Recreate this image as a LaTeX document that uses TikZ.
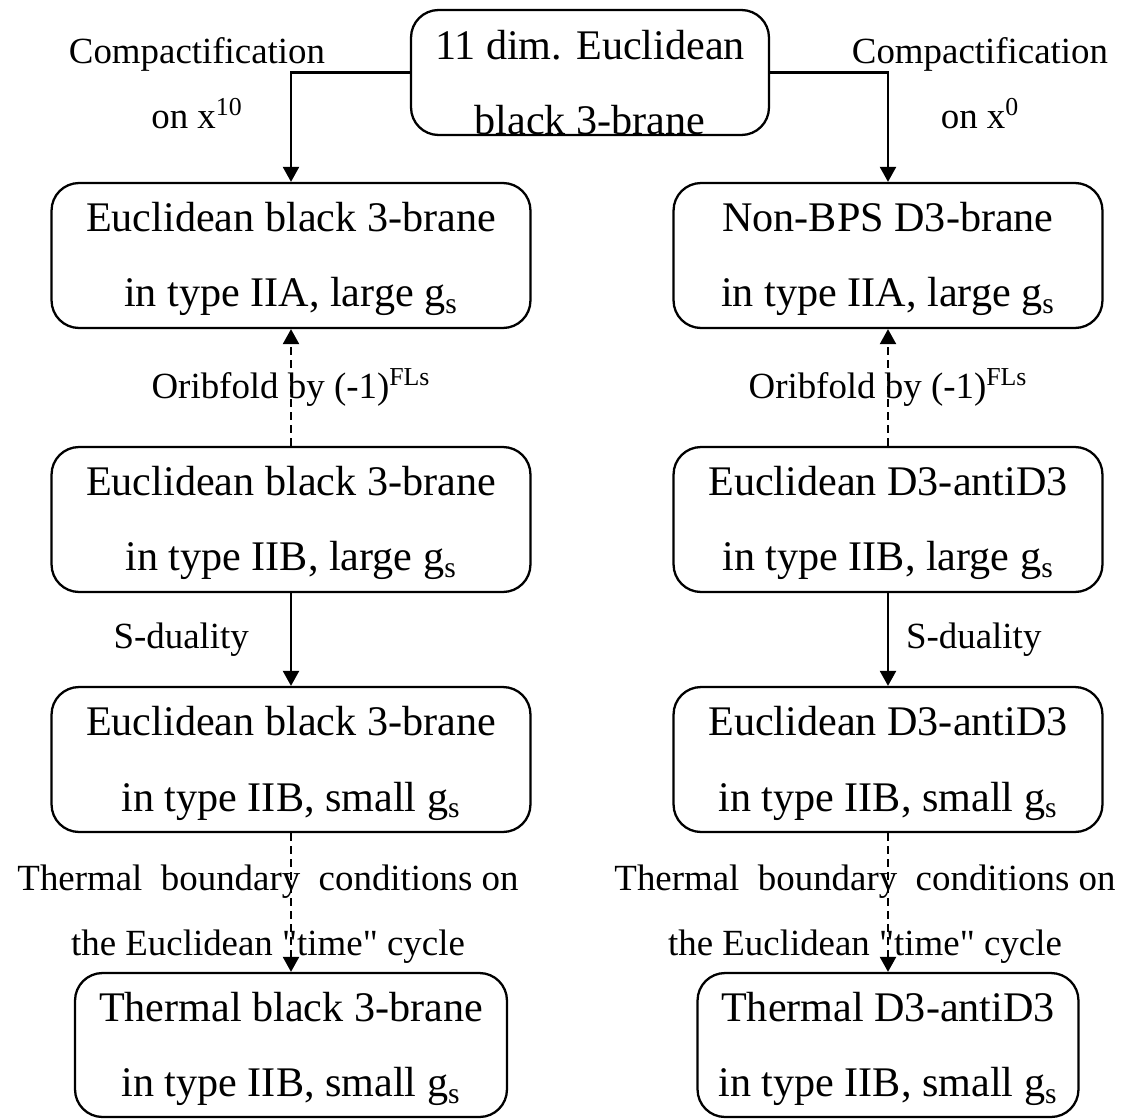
\documentclass[tikz,border=0pt]{standalone}
\usepackage{fontspec}
\setmainfont{Liberation Serif}
\usetikzlibrary{arrows.meta}

\begin{document}
\begin{tikzpicture}[x=0.02cm,y=-0.02cm]

% estilos de cajas, flechas y rotulos
\tikzstyle{caja}    = [draw=black,line width=1.3pt,rounded corners=0.55cm,align=center,inner sep=0pt,
                       minimum height=2.9cm,font=\fontsize{24}{42.7}\selectfont,text height=2.24cm,text depth=0.18cm]
\tikzstyle{flecha}  = [line width=1.3pt,-{Triangle[length=0.3cm,width=0.32cm]}]
\tikzstyle{discont} = [dash pattern=on 0.16cm off 0.1cm]
\tikzstyle{rotulo}  = [align=center,inner sep=0pt,font=\fontsize{21}{37}\selectfont]

% marco
\useasboundingbox (0,0) rectangle (1125,1119);

% cajas
\node[caja,minimum width=7.16cm,minimum height=2.5cm,text height=2.5cm,text depth=-0.2cm] (cima) at (590,72.5) {11 dim. Euclidean\\black 3-brane};
\node[caja,minimum width=9.58cm] (izq1) at (291,255.5) {Euclidean black 3-brane\\in type IIA, large g\textsubscript{s}};
\node[caja,minimum width=9.58cm] (izq2) at (291,519.5) {Euclidean black 3-brane\\in type IIB, large g\textsubscript{s}};
\node[caja,minimum width=9.58cm] (izq3) at (291,759.5) {Euclidean black 3-brane\\in type IIB, small g\textsubscript{s}};
\node[caja,minimum width=8.64cm,minimum height=2.88cm] (izq4) at (291,1045) {Thermal black 3-brane\\in type IIB, small g\textsubscript{s}};
\node[caja,minimum width=8.58cm] (der1) at (888,255.5) {Non-BPS D3-brane\\in type IIA, large g\textsubscript{s}};
\node[caja,minimum width=8.58cm] (der2) at (888,519.5) {Euclidean D3-antiD3\\in type IIB, large g\textsubscript{s}};
\node[caja,minimum width=8.58cm] (der3) at (888,759.5) {Euclidean D3-antiD3\\in type IIB, small g\textsubscript{s}};
\node[caja,minimum width=7.62cm,minimum height=2.88cm] (der4) at (888,1045) {Thermal D3-antiD3\\in type IIB, small g\textsubscript{s}};

% compactificacion
\draw[flecha] (cima.west) -| (izq1.north);
\draw[flecha] (cima.east) -| (der1.north);
\node[rotulo] (compizq) at (197,83) {Compactification\\on x\textsuperscript{10}};
\node[rotulo] (compder) at (980,83) {Compactification\\on x\textsuperscript{0}};

% columna izquierda
\draw[flecha,discont] (izq2.north) -- (izq1.south) node[rotulo,midway] (orbizq) {Oribfold by (-1)\textsuperscript{FLs}};
\draw[flecha] (izq2.south) -- (izq3.north) node[rotulo,midway,anchor=east,xshift=-0.82cm] (dualizq) {S-duality};
\draw[flecha,discont] (izq3.south) -- (izq4.north) node[rotulo,midway,xshift=-0.46cm,yshift=-0.23cm] (termizq) {Thermal~ boundary~ conditions on\\the Euclidean \textquotedbl time\textquotedbl{} cycle};

% columna derecha
\draw[flecha,discont] (der2.north) -- (der1.south) node[rotulo,midway] (orbder) {Oribfold by (-1)\textsuperscript{FLs}};
\draw[flecha] (der2.south) -- (der3.north) node[rotulo,midway,anchor=west,xshift=0.34cm] (dualder) {S-duality};
\draw[flecha,discont] (der3.south) -- (der4.north) node[rotulo,midway,xshift=-0.46cm,yshift=-0.23cm] (termder) {Thermal~ boundary~ conditions on\\the Euclidean \textquotedbl time\textquotedbl{} cycle};

\end{tikzpicture}
\end{document}
